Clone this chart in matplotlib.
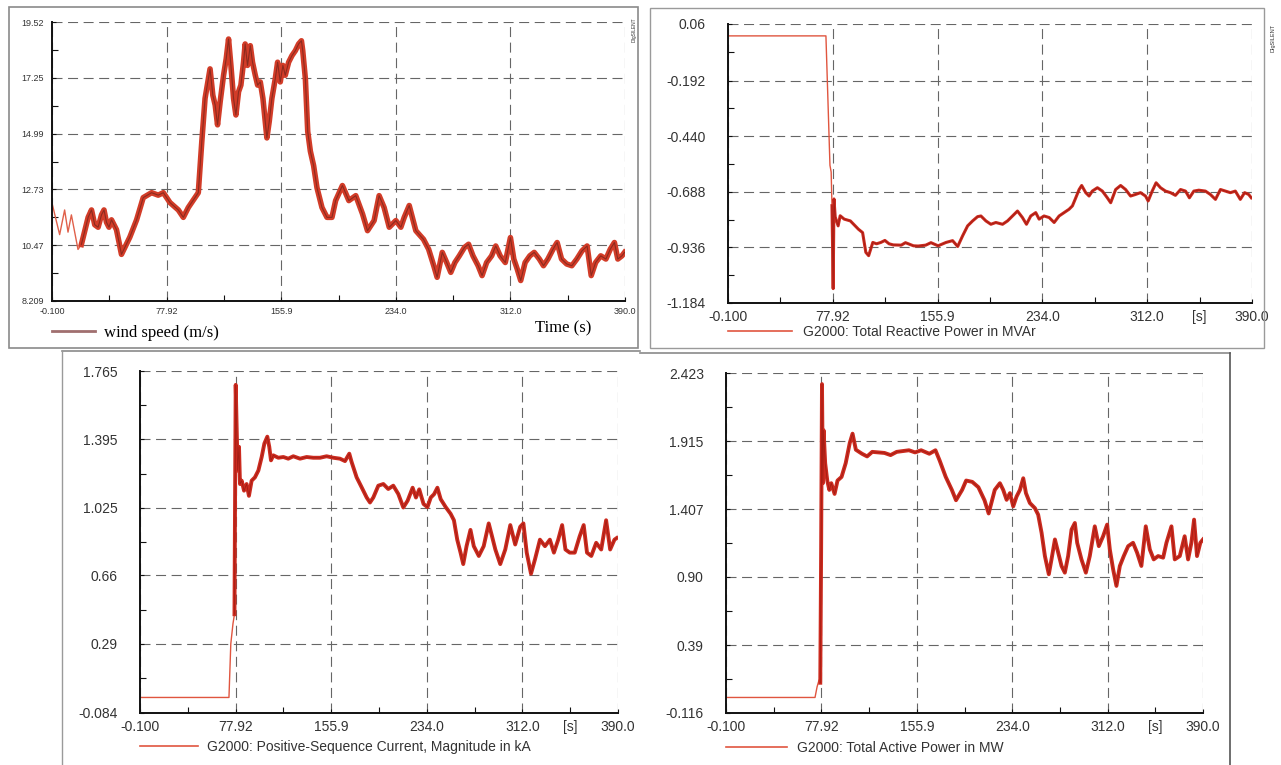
import numpy as np
import matplotlib
matplotlib.use('Agg')
import matplotlib.pyplot as plt
from matplotlib.lines import Line2D
from matplotlib.patches import Rectangle

plt.rcParams['font.family'] = ['Liberation Sans', 'DejaVu Sans']

# time axis, shared by the four plots
xtick_vals = [-0.1, 77.92, 155.9, 234.0, 312.0, 390.0]
xtick_labels = ['-0.100', '77.92', '155.9', '234.0', '312.0', '390.0']

# wind speed (m/s)
t_wind = [-0.1, 5.1, 8.5, 10.8, 13.1, 17.6, 19.9, 24.5, 26.8, 29.0,
          31.3, 33.6, 35.3, 37.0, 38.7, 40.4, 43.8, 47.2, 52.9, 57.5,
          62.0, 67.7, 72.2, 75.7, 80.2, 85.9, 89.3, 92.7, 96.1, 99.5,
          101.9, 104.1, 106.4, 107.5, 109.4, 111.0, 112.6, 114.4, 116.7, 118.5,
          120.1, 121.7, 123.5, 125.1, 126.9, 128.5, 130.3, 131.4, 133.0, 134.9,
          136.4, 138.3, 139.9, 141.7, 143.5, 145.1, 146.2, 147.8, 149.6, 151.9,
          153.5, 155.3, 157.1, 158.7, 161.0, 163.3, 165.6, 167.8, 169.7, 170.6,
          172.4, 174.0, 175.8, 178.0, 180.3, 183.7, 187.1, 190.5, 193.0, 197.6,
          202.0, 206.7, 211.3, 214.7, 219.2, 222.6, 226.0, 229.5, 234.0, 237.4,
          239.7, 243.1, 247.6, 252.8, 256.3, 259.8, 262.1, 265.6, 268.6, 271.4,
          274.2, 277.2, 280.7, 283.5, 286.5, 290.0, 292.7, 295.8, 299.2, 302.0,
          305.0, 308.5, 312.0, 314.3, 316.6, 319.0, 322.0, 325.2, 328.2, 331.7,
          334.5, 337.5, 341.0, 343.8, 346.8, 350.3, 353.8, 357.2, 360.7, 364.2,
          367.0, 370.0, 373.5, 377.0, 380.0, 382.8, 385.1, 387.9, 389.7]
wind = [12.18, 10.9, 11.9, 11.0, 11.7, 10.3, 10.5, 11.6, 11.9, 11.3,
        11.2, 11.7, 11.9, 11.4, 11.2, 11.5, 11.1, 10.1, 10.8, 11.5,
        12.4, 12.6, 12.5, 12.6, 12.2, 11.9, 11.6, 12.0, 12.3, 12.6,
        14.68, 16.42, 17.22, 17.62, 16.55, 16.15, 15.35, 16.29, 17.36, 18.03,
        18.83, 17.76, 16.42, 15.75, 16.69, 16.96, 17.89, 18.63, 17.76, 18.56,
        17.89, 17.36, 16.96, 17.09, 16.42, 15.49, 14.82, 15.49, 16.42, 17.22,
        17.89, 17.09, 17.76, 17.36, 17.89, 18.16, 18.36, 18.63, 18.76, 18.36,
        17.22, 15.08, 14.28, 13.7, 12.8, 12.0, 11.6, 11.6, 12.28, 12.89,
        12.28, 12.48, 11.74, 11.06, 11.47, 12.48, 12.0, 11.2, 11.47, 11.2,
        11.6, 12.08, 11.06, 10.71, 10.31, 9.64, 9.17, 10.18, 9.77, 9.37,
        9.77, 10.04, 10.38, 10.51, 10.04, 9.64, 9.24, 9.77, 10.04, 10.44,
        10.04, 9.77, 10.78, 9.91, 9.51, 9.04, 9.77, 10.04, 10.18, 9.91,
        9.64, 9.91, 10.31, 10.58, 9.91, 9.71, 9.64, 9.91, 10.24, 10.44,
        9.24, 9.77, 10.04, 9.91, 10.31, 10.58, 9.91, 10.04, 10.18]
wind_ticks = [8.209, 10.47, 12.73, 14.99, 17.25, 19.52]
wind_tick_labels = ['8.209', '10.47', '12.73', '14.99', '17.25', '19.52']

# reactive power (MVAr)
t_q = [-0.1, 72.8, 74.3, 75.8, 76.7, 77.3, 78.2, 78.8, 79.7, 81.9,
       83.4, 86.4, 91.0, 97.0, 100.1, 102.5, 104.6, 107.7, 110.5, 113.7,
       116.7, 119.8, 122.9, 128.9, 132.0, 138.0, 141.5, 147.1, 151.0, 156.3,
       162.2, 167.1, 170.9, 174.6, 178.3, 182.0, 185.7, 188.2, 191.9, 195.6,
       199.3, 204.3, 208.0, 211.7, 215.4, 219.1, 222.1, 225.3, 229.0, 231.5,
       235.2, 239.0, 242.7, 246.4, 250.1, 253.8, 256.3, 258.8, 261.3, 263.2,
       266.2, 268.7, 271.1, 274.9, 278.6, 282.3, 284.8, 288.5, 292.2, 295.9,
       299.6, 303.3, 307.0, 310.7, 312.7, 315.7, 318.6, 321.9, 325.6, 329.3,
       333.0, 336.8, 340.5, 343.4, 346.7, 350.4, 355.3, 359.0, 362.8, 366.5,
       370.2, 373.9, 377.6, 381.3, 384.5, 387.5, 389.5]
q = [0.007, 0.007, -0.28, -0.57, -0.60, -0.75, -1.12, -0.72, -0.80, -0.84,
     -0.795, -0.81, -0.818, -0.855, -0.87, -0.958, -0.973, -0.914, -0.92, -0.914,
     -0.905, -0.92, -0.925, -0.926, -0.915, -0.929, -0.93, -0.926, -0.915, -0.929,
     -0.914, -0.906, -0.932, -0.884, -0.84, -0.818, -0.799, -0.796, -0.818, -0.833,
     -0.825, -0.833, -0.818, -0.796, -0.774, -0.803, -0.833, -0.796, -0.781, -0.81,
     -0.796, -0.803, -0.825, -0.796, -0.781, -0.766, -0.751, -0.715, -0.678, -0.66,
     -0.692, -0.707, -0.685, -0.67, -0.685, -0.715, -0.737, -0.678, -0.66, -0.678,
     -0.707, -0.70, -0.692, -0.707, -0.729, -0.685, -0.648, -0.67, -0.685, -0.692,
     -0.704, -0.678, -0.685, -0.715, -0.685, -0.681, -0.685, -0.70, -0.722, -0.678,
     -0.685, -0.692, -0.685, -0.722, -0.692, -0.70, -0.715]
q_ticks = [-1.184, -0.936, -0.688, -0.440, -0.192, 0.06]
q_tick_labels = ['-1.184', '-0.936', '-0.688', '-0.440', '-0.192', '0.06']

# positive-sequence current (kA)
t_i = [-0.1, 72.5, 74.0, 75.8, 77.0, 77.4, 78.0, 78.8, 79.6, 80.7,
       81.5, 82.9, 84.8, 86.9, 88.8, 91.0, 93.7, 96.5, 99.2, 101.4,
       103.8, 105.4, 106.8, 108.7, 112.8, 116.9, 120.9, 125.0, 130.5, 135.9,
       141.3, 146.8, 152.2, 157.7, 163.1, 167.2, 170.7, 172.6, 176.7, 180.8,
       184.9, 187.6, 190.3, 194.4, 198.5, 202.5, 206.6, 210.7, 214.8, 218.3,
       222.4, 225.1, 227.8, 231.3, 234.5, 237.2, 239.9, 242.6, 245.3, 249.4,
       253.4, 256.1, 258.8, 261.5, 263.7, 266.4, 269.6, 272.3, 276.4, 280.4,
       284.5, 287.2, 289.9, 293.9, 298.0, 302.1, 306.1, 310.2, 312.8, 315.5,
       319.0, 322.3, 326.3, 330.4, 334.4, 337.7, 341.2, 344.4, 347.1, 350.6,
       354.7, 358.7, 362.0, 364.7, 368.2, 372.2, 376.3, 380.3, 383.6, 387.1,
       389.0]
cur = [0.0, 0.0, 0.29, 0.40, 0.45, 0.97, 1.69, 1.455, 1.227, 1.355,
       1.154, 1.172, 1.118, 1.154, 1.09, 1.172, 1.19, 1.227, 1.30, 1.373,
       1.41, 1.355, 1.282, 1.309, 1.296, 1.30, 1.291, 1.304, 1.291, 1.30,
       1.296, 1.296, 1.304, 1.296, 1.291, 1.278, 1.318, 1.273, 1.19, 1.136,
       1.081, 1.054, 1.081, 1.145, 1.154, 1.127, 1.145, 1.10, 1.027, 1.064,
       1.134, 1.081, 1.125, 1.046, 1.029, 1.081, 1.099, 1.134, 1.072, 1.029,
       0.993, 0.958, 0.853, 0.783, 0.721, 0.818, 0.906, 0.818, 0.765, 0.818,
       0.941, 0.871, 0.80, 0.721, 0.80, 0.932, 0.827, 0.923, 0.941, 0.783,
       0.669, 0.748, 0.853, 0.818, 0.853, 0.783, 0.853, 0.932, 0.80, 0.783,
       0.783, 0.871, 0.932, 0.783, 0.765, 0.836, 0.80, 0.958, 0.80, 0.853,
       0.862]
i_ticks = [-0.084, 0.29, 0.66, 1.025, 1.395, 1.765]
i_tick_labels = ['-0.084', '0.29', '0.66', '1.025', '1.395', '1.765']

# active power (MW)
t_p = [-0.1, 72.7, 74.4, 76.0, 77.0, 77.7, 78.4, 79.1, 79.7, 81.0,
       82.7, 84.4, 86.0, 88.7, 91.1, 94.4, 97.8, 101.1, 103.4, 106.1,
       111.1, 115.3, 119.5, 124.5, 129.5, 134.5, 139.5, 144.5, 149.5, 154.5,
       159.5, 166.2, 171.2, 174.6, 179.6, 184.6, 188.0, 193.0, 196.3, 201.3,
       206.3, 211.3, 214.7, 219.7, 223.9, 226.6, 229.4, 232.1, 234.8, 237.5,
       240.3, 243.0, 245.2, 248.4, 252.5, 255.2, 258.0, 260.7, 263.9, 266.1,
       268.9, 271.6, 274.3, 277.0, 279.7, 282.5, 285.2, 287.1, 290.6, 294.2,
       297.4, 301.5, 304.8, 308.3, 311.6, 313.8, 316.5, 319.2, 322.0, 325.2,
       328.8, 332.8, 336.1, 339.6, 343.2, 346.5, 349.7, 353.3, 357.4, 360.1,
       364.2, 366.9, 371.0, 375.0, 377.8, 380.5, 382.7, 385.1, 387.8, 390.0]
p = [0.0, 0.0, 0.08, 0.13, 0.11, 1.10, 2.34, 1.60, 1.995, 1.75,
     1.62, 1.55, 1.60, 1.52, 1.62, 1.647, 1.75, 1.90, 1.97, 1.85,
     1.82, 1.80, 1.834, 1.83, 1.826, 1.81, 1.834, 1.84, 1.846, 1.83,
     1.846, 1.82, 1.846, 1.77, 1.647, 1.55, 1.473, 1.55, 1.62, 1.61,
     1.57, 1.473, 1.374, 1.55, 1.60, 1.55, 1.476, 1.526, 1.427, 1.50,
     1.55, 1.637, 1.526, 1.452, 1.414, 1.365, 1.229, 1.056, 0.92, 1.031,
     1.18, 1.081, 0.982, 0.932, 1.056, 1.254, 1.303, 1.155, 1.031, 0.932,
     1.056, 1.278, 1.13, 1.204, 1.291, 1.105, 0.957, 0.833, 0.982, 1.056,
     1.13, 1.155, 1.081, 0.982, 1.278, 1.105, 1.031, 1.056, 1.044, 1.155,
     1.278, 1.031, 1.056, 1.204, 1.031, 1.155, 1.328, 1.056, 1.155, 1.18]
p_ticks = [-0.116, 0.39, 0.90, 1.407, 1.915, 2.423]
p_tick_labels = ['-0.116', '0.39', '0.90', '1.407', '1.915', '2.423']

W, H = 1281, 765


def px_rect(l, t, r, b):
    return [l / W, 1 - b / H, (r - l) / W, (b - t) / H]


def mids(v):
    return [(a + b) / 2 for a, b in zip(v[:-1], v[1:])]


def style_axes(ax, yvals, ylabels, fs, ypad, xpad, unit_label=True):
    ax.set_xlim(xtick_vals[0], xtick_vals[-1])
    ax.set_ylim(yvals[0], yvals[-1])
    ax.set_xticks(xtick_vals)
    ax.set_xticklabels(xtick_labels)
    ax.set_yticks(yvals)
    ax.set_yticklabels(ylabels)
    ax.set_xticks(mids(xtick_vals), minor=True)
    ax.set_yticks(mids(yvals), minor=True)
    if unit_label:
        ax.set_xticklabels(['', '', '', '', '[s]'], minor=True)
    ax.grid(True, which='major', color='#666666', linestyle=(0, (9, 5)), linewidth=0.8)
    for s in ['top', 'right']:
        ax.spines[s].set_visible(False)
    for s in ['left', 'bottom']:
        ax.spines[s].set_linewidth(1.4)
        ax.spines[s].set_color('#111111')
    ax.tick_params(which='both', direction='in', width=0.8, colors='#111111',
                   labelcolor='#333333', labelsize=fs)
    ax.tick_params(axis='y', which='major', length=3, pad=ypad)
    ax.tick_params(axis='x', which='major', length=3, pad=xpad)
    ax.tick_params(axis='y', which='minor', length=4)
    ax.tick_params(axis='x', which='minor', length=4, pad=xpad)
    ax.set_facecolor('white')


def draw_trace(ax, t, v, label, lw):
    t = np.array(t)
    v = np.array(v)
    ax.plot(t, v, color='#e0553f', lw=1.0, label=label)
    k = np.argmax(t >= 77.0)
    ax.plot(t[k:], v[k:], color='#cc2b1f', lw=lw, solid_joinstyle='round')
    ax.plot(t[k:], v[k:], color='#a31d14', lw=0.6, solid_joinstyle='round')


fig = plt.figure(figsize=(12.81, 7.65), dpi=100)
fig.patch.set_facecolor('white')

# panel outlines (scanned figure look)
fig.add_artist(Rectangle((9 / W, 1 - 348 / H), (638 - 9) / W, (348 - 7) / H,
                         transform=fig.transFigure, fill=False, ec='#8a8a8a', lw=1.2))
fig.add_artist(Rectangle((650 / W, 1 - 348 / H), (1264 - 650) / W, (348 - 8) / H,
                         transform=fig.transFigure, fill=False, ec='#9a9a9a', lw=1.0))
fig.add_artist(Line2D([62 / W, 640 / W], [1 - 351 / H, 1 - 351 / H],
                      transform=fig.transFigure, color='#8a8a8a', lw=1.2))
fig.add_artist(Line2D([62 / W, 62 / W], [0, 1 - 351 / H],
                      transform=fig.transFigure, color='#9a9a9a', lw=1.0))
fig.add_artist(Line2D([640 / W, 1230 / W], [1 - 353 / H, 1 - 353 / H],
                      transform=fig.transFigure, color='#8a8a8a', lw=1.2))
fig.add_artist(Line2D([1230 / W, 1230 / W], [0, 1 - 353 / H],
                      transform=fig.transFigure, color='#555555', lw=1.2))

# wind speed
ax1 = fig.add_axes(px_rect(52, 22, 625, 301))
style_axes(ax1, wind_ticks, wind_tick_labels, 6.5, 6, 4, unit_label=False)
tw = np.array(t_wind)
vw = np.array(wind)
k = np.argmax(tw >= 19.9)
ax1.plot(tw[:k + 1], vw[:k + 1], color='#e0604a', lw=1.0)
ax1.plot(tw[k:], vw[k:], color='#d23c28', lw=4.0, solid_joinstyle='round')
ax1.plot(tw[k:], vw[k:], color='#8c2a1e', lw=0.8, solid_joinstyle='round')
h = Line2D([], [], color='#a06f6f', lw=2)
ax1.legend(handles=[h], labels=['wind speed (m/s)'], loc='center left',
           bbox_to_anchor=(0.0, -(333 - 301) / 279), frameon=False,
           handlelength=2.6, handletextpad=0.5, borderpad=0, borderaxespad=0,
           prop={'family': 'Liberation Serif', 'size': 12})
ax1.text((563 - 52) / 573, -(328 - 301) / 279, 'Time (s)', transform=ax1.transAxes,
         ha='center', va='center', family='Liberation Serif', fontsize=12)
fig.text(634 / W, 1 - 30 / H, 'DIgSILENT', rotation=90, fontsize=3.5,
         ha='center', va='center', color='#333333')

# reactive power
ax2 = fig.add_axes(px_rect(728, 24, 1252, 303))
style_axes(ax2, q_ticks, q_tick_labels, 10, 16, 5)
draw_trace(ax2, t_q, q, 'G2000: Total Reactive Power in MVAr', 2.2)
fig.text(1273 / W, 1 - 38 / H, 'DIgSILENT', rotation=90, fontsize=4,
         ha='center', va='center', color='#333333')

# current
ax3 = fig.add_axes(px_rect(140, 371, 618, 713))
style_axes(ax3, i_ticks, i_tick_labels, 10, 16, 5)
draw_trace(ax3, t_i, cur, 'G2000: Positive-Sequence Current, Magnitude in kA', 2.8)

# active power
ax4 = fig.add_axes(px_rect(726, 373, 1203, 713))
style_axes(ax4, p_ticks, p_tick_labels, 10, 16, 5)
draw_trace(ax4, t_p, p, 'G2000: Total Active Power in MW', 2.8)

for ax, ly, hgt, hl, tp in [(ax2, 332 - 303, 279, 4.6, 0.8),
                            (ax3, 747 - 713, 342, 4.2, 0.6),
                            (ax4, 748 - 713, 340, 4.4, 0.7)]:
    leg = ax.legend(loc='center left', bbox_to_anchor=(0.0, -ly / hgt), frameon=False,
                    handlelength=hl, handletextpad=tp, borderpad=0, borderaxespad=0,
                    fontsize=10)
    for txt in leg.get_texts():
        txt.set_color('#333333')
    for ln in leg.get_lines():
        ln.set_linewidth(1.2)

fig.savefig('out.png', dpi=100, facecolor='white')
